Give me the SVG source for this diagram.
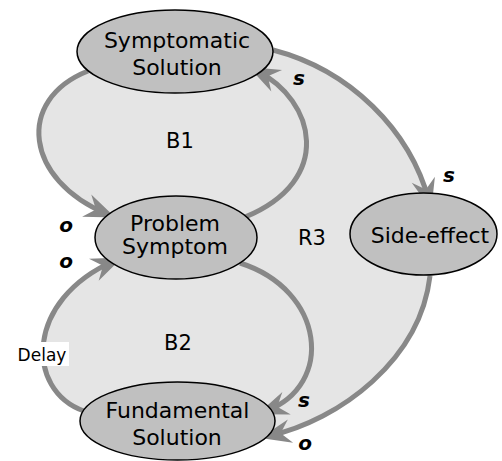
<svg xmlns="http://www.w3.org/2000/svg" width="502" height="461" viewBox="0 0 502 461">
<style>
.bg{fill:#e5e5e5;stroke:none}
.node ellipse{fill:#c0c0c0;stroke:#000;stroke-width:1.5}
.node text{font-family:"DejaVu Sans",sans-serif;font-size:22px;fill:#000;text-anchor:middle}
.conn path{fill:none;stroke:#888;stroke-width:5;marker-end:url(#ah)}
.lbl{font-family:"DejaVu Sans",sans-serif;font-size:21px;fill:#000;text-anchor:middle}
.pol{font-family:"DejaVu Sans",sans-serif;font-size:20px;font-weight:bold;font-style:italic;fill:#000;text-anchor:middle}
.dl{font-family:"DejaVu Sans",sans-serif;font-size:17px;fill:#000;text-anchor:middle}
</style>
<defs>
<marker id="ah" markerUnits="userSpaceOnUse" markerWidth="38" markerHeight="30" viewBox="-26 -15 38 30" refX="0" refY="0" orient="auto">
<path d="M9,0 L-22,-12 L-12,0 L-22,12 Z" fill="#888"/>
</marker>
</defs>
<path class="bg" d="M88,71 C15,100 25,180 108,214 L115,260 C25,300 25,390 84,411 L268,436 C340,420 420,360 430,276 L429,202 C410,130 350,70 273,50 Z"/>
<g id="connectors" class="conn">
<path d="M88,71 C15,100 25,180 107,214"/>
<path d="M245,217 C335,180 315,100 257,71"/>
<path d="M273,50 C350,70 410,130 429,201"/>
<path d="M430,276 C420,360 340,420 269,436"/>
<path d="M240,263 C325,290 335,385 266,411"/>
<path d="M84,411 C25,390 25,300 114,261"/>
</g>
<rect x="15" y="342" width="54" height="24" fill="#fff"/>
<text class="dl" x="42" y="361">Delay</text>
<g id="symptomatic" class="node">
<ellipse cx="175" cy="51.5" rx="98" ry="41.5"/>
<text x="177" y="48">Symptomatic</text>
<text x="177" y="75">Solution</text>
</g>
<g id="problem" class="node">
<ellipse cx="176" cy="237.5" rx="81" ry="41.5"/>
<text x="175" y="231">Problem</text>
<text x="175" y="254">Symptom</text>
</g>
<g id="sideeffect" class="node">
<ellipse cx="423.5" cy="234" rx="73.5" ry="41"/>
<text x="430" y="243">Side-effect</text>
</g>
<g id="fundamental" class="node">
<ellipse cx="177.5" cy="421" rx="97.5" ry="39"/>
<text x="177.5" y="418">Fundamental</text>
<text x="177" y="445">Solution</text>
</g>
<text class="lbl" x="180" y="148">B1</text>
<text class="lbl" x="178" y="350">B2</text>
<text class="lbl" x="312" y="245">R3</text>
<text class="pol" x="66" y="232">o</text>
<text class="pol" x="66" y="268">o</text>
<text class="pol" x="299" y="85">s</text>
<text class="pol" x="449" y="182">s</text>
<text class="pol" x="304" y="407">s</text>
<text class="pol" x="305" y="450">o</text>
</svg>
